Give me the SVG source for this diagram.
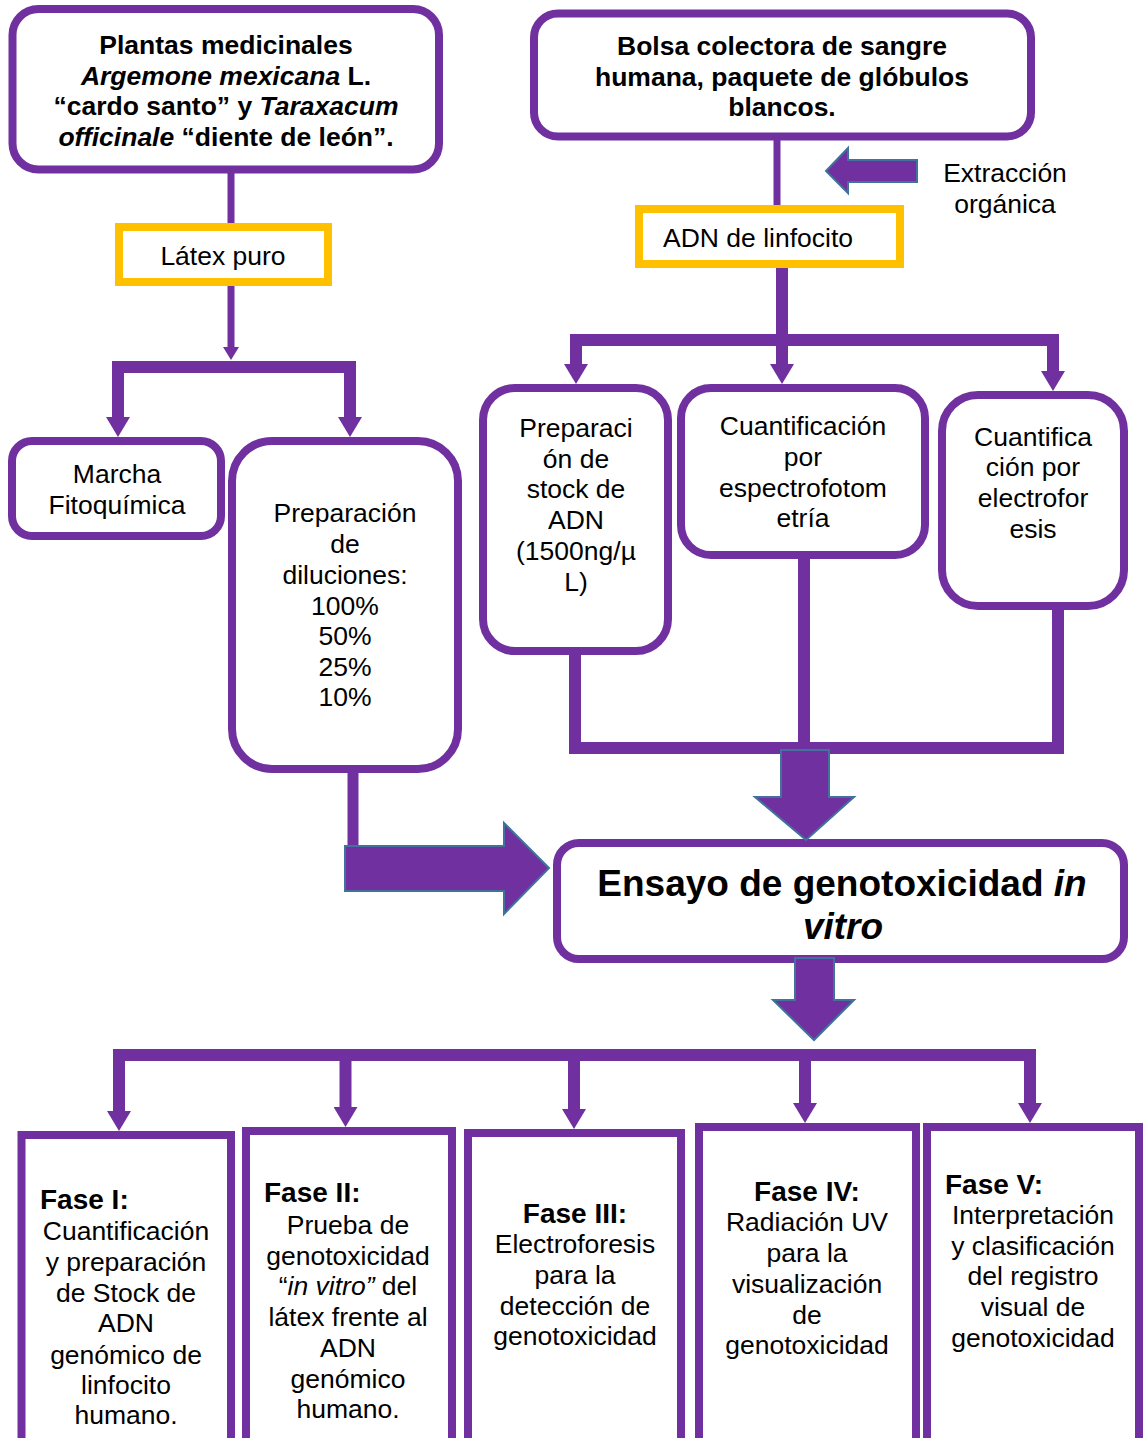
<svg xmlns="http://www.w3.org/2000/svg" width="1143" height="1438" viewBox="0 0 1143 1438">
<style>
.box{fill:#fff;stroke:#7030A0;stroke-width:8}
.ybox{fill:#fff;stroke:#FFC000;stroke-width:8}
.t{font-family:"Liberation Sans",Arial,sans-serif;font-size:26.5px;fill:#000;text-anchor:middle}
.s{text-anchor:start}
.b{font-weight:bold}
.i{font-style:italic}
.h{font-family:"Liberation Sans",Arial,sans-serif;font-size:28px;font-weight:bold;fill:#000}
.big{font-family:"Liberation Sans",Arial,sans-serif;font-size:37px;font-weight:bold;fill:#000;text-anchor:middle}
.ln{fill:none;stroke:#7030A0;stroke-width:12}
.thin{fill:none;stroke:#7030A0;stroke-width:7}
.blk{fill:#7030A0;stroke:#41719C;stroke-width:2}
</style>
<defs>
<marker id="ah" markerUnits="userSpaceOnUse" viewBox="0 -12 20 24" markerWidth="20" markerHeight="24" refX="0" refY="0" orient="auto">
<path d="M0,-12 L20,0 L0,12 Z" fill="#7030A0"/>
</marker>
<marker id="ahs" markerUnits="userSpaceOnUse" viewBox="0 -8 13 16" markerWidth="13" markerHeight="16" refX="0" refY="0" orient="auto">
<path d="M0,-8 L13,0 L0,8 Z" fill="#7030A0"/>
</marker>
</defs>

<g id="nodes">
<g id="plantas">
<rect class="box" x="12.5" y="9" width="426.5" height="160.5" rx="26"/>
<text class="t b" x="226" y="54">Plantas medicinales</text>
<text class="t b" x="226" y="85"><tspan class="i">Argemone mexicana</tspan> L.</text>
<text class="t b" x="226" y="115">“cardo santo” y <tspan class="i">Taraxacum</tspan></text>
<text class="t b" x="226" y="146"><tspan class="i">officinale</tspan> “diente de león”.</text>
</g>
<g id="latex">
<rect class="ybox" x="119" y="227" width="209" height="55"/>
<text class="t" x="223" y="265">Látex puro</text>
</g>
<g id="bolsa">
<rect class="box" x="534" y="13.5" width="497" height="123" rx="24"/>
<text class="t b" x="782" y="55">Bolsa colectora de sangre</text>
<text class="t b" x="782" y="86">humana, paquete de glóbulos</text>
<text class="t b" x="782" y="116">blancos.</text>
</g>
<g id="adn">
<rect class="ybox" x="639" y="209" width="261" height="55"/>
<text class="t s" x="663" y="247">ADN de linfocito</text>
</g>
<g id="extraccion">
<text class="t" x="1005" y="182">Extracción</text>
<text class="t" x="1005" y="213">orgánica</text>
</g>
<g id="marcha">
<rect class="box" x="12" y="441" width="209" height="95" rx="20"/>
<text class="t" x="117" y="483">Marcha</text>
<text class="t" x="117" y="514">Fitoquímica</text>
</g>
<g id="diluciones">
<rect class="box" x="232" y="441" width="226" height="328" rx="40"/>
<text class="t" x="345" y="522">Preparación</text>
<text class="t" x="345" y="553">de</text>
<text class="t" x="345" y="584">diluciones:</text>
<text class="t" x="345" y="615">100%</text>
<text class="t" x="345" y="645">50%</text>
<text class="t" x="345" y="676">25%</text>
<text class="t" x="345" y="706">10%</text>
</g>
<g id="stock">
<rect class="box" x="483" y="388" width="185" height="263" rx="32"/>
<text class="t" x="576" y="437">Preparaci</text>
<text class="t" x="576" y="468">ón de</text>
<text class="t" x="576" y="498">stock de</text>
<text class="t" x="576" y="529">ADN</text>
<text class="t" x="576" y="560">(1500ng/µ</text>
<text class="t" x="576" y="591">L)</text>
</g>
<g id="espectro">
<rect class="box" x="681" y="388" width="244" height="167" rx="30"/>
<text class="t" x="803" y="435">Cuantificación</text>
<text class="t" x="803" y="466">por</text>
<text class="t" x="803" y="497">espectrofotom</text>
<text class="t" x="803" y="527">etría</text>
</g>
<g id="electro">
<rect class="box" x="942" y="395" width="182" height="211" rx="36"/>
<text class="t" x="1033" y="446">Cuantifica</text>
<text class="t" x="1033" y="476">ción por</text>
<text class="t" x="1033" y="507">electrofor</text>
<text class="t" x="1033" y="538">esis</text>
</g>
<g id="ensayo">
<rect class="box" x="557" y="843" width="567" height="116" rx="22"/>
<text class="big" x="842" y="896">Ensayo de genotoxicidad <tspan class="i">in</tspan></text>
<text class="big i" x="843" y="939">vitro</text>
</g>
<g id="fase1">
<rect class="box" x="21.5" y="1135" width="209.5" height="320"/>
<text class="h" x="40" y="1209">Fase I:</text>
<text class="t" x="126" y="1240">Cuantificación</text>
<text class="t" x="126" y="1271">y preparación</text>
<text class="t" x="126" y="1302">de Stock de</text>
<text class="t" x="126" y="1332">ADN</text>
<text class="t" x="126" y="1364">genómico de</text>
<text class="t" x="126" y="1394">linfocito</text>
<text class="t" x="126" y="1424">humano.</text>
</g>
<g id="fase2">
<rect class="box" x="246" y="1131" width="206" height="320"/>
<text class="h" x="264" y="1202">Fase II:</text>
<text class="t" x="348" y="1234">Prueba de</text>
<text class="t" x="348" y="1265">genotoxicidad</text>
<text class="t" x="348" y="1295">“<tspan class="i">in vitro”</tspan> del</text>
<text class="t" x="348" y="1326">látex frente al</text>
<text class="t" x="348" y="1357">ADN</text>
<text class="t" x="348" y="1388">genómico</text>
<text class="t" x="348" y="1418">humano.</text>
</g>
<g id="fase3">
<rect class="box" x="468" y="1133" width="213" height="320"/>
<text class="h" x="575" y="1223" text-anchor="middle">Fase III:</text>
<text class="t" x="575" y="1253">Electroforesis</text>
<text class="t" x="575" y="1284">para la</text>
<text class="t" x="575" y="1315">detección de</text>
<text class="t" x="575" y="1345">genotoxicidad</text>
</g>
<g id="fase4">
<rect class="box" x="699" y="1127" width="217" height="320"/>
<text class="h" x="807" y="1201" text-anchor="middle">Fase IV:</text>
<text class="t" x="807" y="1231">Radiación UV</text>
<text class="t" x="807" y="1262">para la</text>
<text class="t" x="807" y="1293">visualización</text>
<text class="t" x="807" y="1324">de</text>
<text class="t" x="807" y="1354">genotoxicidad</text>
</g>
<g id="fase5">
<rect class="box" x="927" y="1127" width="212" height="320"/>
<text class="h" x="945" y="1194">Fase V:</text>
<text class="t" x="1033" y="1224">Interpretación</text>
<text class="t" x="1033" y="1255">y clasificación</text>
<text class="t" x="1033" y="1285">del registro</text>
<text class="t" x="1033" y="1316">visual de</text>
<text class="t" x="1033" y="1347">genotoxicidad</text>
</g>
</g>

<g id="connectors">
<line class="thin" x1="231" y1="173" x2="231" y2="223"/>
<line class="thin" x1="231" y1="286" x2="231" y2="347" marker-end="url(#ahs)"/>
<line class="ln" x1="112" y1="367" x2="356" y2="367"/>
<line class="ln" x1="118" y1="361" x2="118" y2="417" marker-end="url(#ah)"/>
<line class="ln" x1="350" y1="361" x2="350" y2="417" marker-end="url(#ah)"/>

<line class="thin" x1="777" y1="140" x2="777" y2="205"/>
<polygon class="blk" points="826,171 848,148 848,160 917,160 917,182 848,182 848,193"/>
<line class="ln" x1="782" y1="268" x2="782" y2="364" marker-end="url(#ah)"/>
<line class="ln" x1="570" y1="340" x2="1059" y2="340"/>
<line class="ln" x1="576" y1="334" x2="576" y2="364" marker-end="url(#ah)"/>
<line class="ln" x1="1053" y1="334" x2="1053" y2="371" marker-end="url(#ah)"/>

<line class="ln" x1="575" y1="653" x2="575" y2="754"/>
<line class="ln" x1="804" y1="557" x2="804" y2="754"/>
<line class="ln" x1="1058" y1="608" x2="1058" y2="754"/>
<line class="ln" x1="569" y1="748" x2="1064" y2="748"/>
<polygon class="blk" points="781,750 829,750 829,797 854,797 806,840 755,797 781,797"/>

<line class="ln" x1="353" y1="771" x2="353" y2="850" style="stroke-width:11"/>
<polygon class="blk" points="345,846 504,846 504,823 549,868 504,914 504,891 345,891"/>

<polygon class="blk" points="795,958 834,958 834,1000 854,1000 814,1040 773,1000 795,1000"/>

<line class="ln" x1="113" y1="1055" x2="1036" y2="1055"/>
<line class="ln" x1="119" y1="1049" x2="119" y2="1111" marker-end="url(#ah)"/>
<line class="ln" x1="345.5" y1="1049" x2="345.5" y2="1107" marker-end="url(#ah)"/>
<line class="ln" x1="574" y1="1049" x2="574" y2="1109" marker-end="url(#ah)"/>
<line class="ln" x1="805" y1="1049" x2="805" y2="1103" marker-end="url(#ah)"/>
<line class="ln" x1="1030" y1="1049" x2="1030" y2="1103" marker-end="url(#ah)"/>
</g>
</svg>
